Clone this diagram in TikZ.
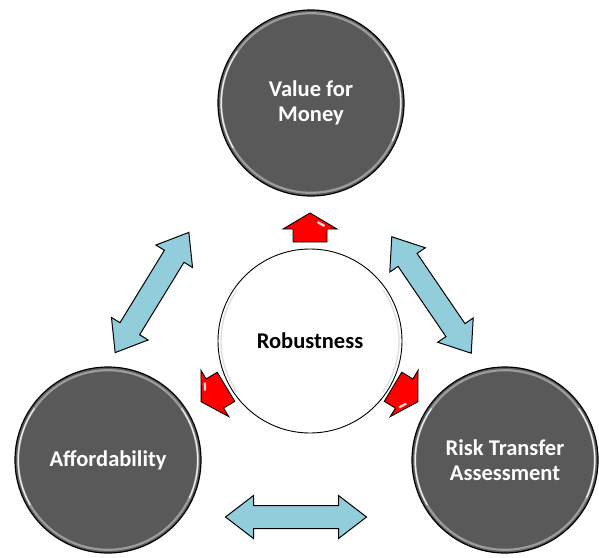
\documentclass[tikz,border=0pt]{standalone}
\usepackage{fontspec}
\setmainfont{Carlito}
\definecolor{cgray}{HTML}{595959}
\definecolor{cblue}{HTML}{92CDDC}
\definecolor{crim}{HTML}{9C9C9C}
\begin{document}
\begin{tikzpicture}[x=1pt,y=-1pt,
  lbl/.style={font=\bfseries\fontsize{22.5}{25}\selectfont, align=center},
  outer/.style={circle, minimum size=186pt, inner sep=0pt, fill=cgray,
    draw=black, line width=1.2pt, text=white, lbl},
  centre/.style={circle, minimum size=184pt, inner sep=0pt, fill=white,
    draw=black, line width=0.9pt, text=black, lbl},
  rimring/.style={draw=crim, line width=2.2pt},
  rimlight/.style={draw=white, line width=1.3pt, opacity=0.8},
  innerrim/.style={draw=black!12, line width=1.4pt},
  dblarrow/.pic={
    \draw[fill=cblue, draw=black, line width=1pt, line join=miter]
      (-70.5,0) -- (-42.5,-21.5) -- (-42.5,-11.5) -- (42.5,-11.5) --
      (42.5,-21.5) -- (70.5,0) -- (42.5,21.5) -- (42.5,11.5) --
      (-42.5,11.5) -- (-42.5,21.5) -- cycle;},
  redarrow/.pic={
    \draw[fill=red, draw=black, line width=0.9pt, line join=miter]
      (0,-15) -- (27,1) -- (17,1) -- (17,14) -- (-17,14) -- (-17,1) --
      (-27,1) -- cycle;
    \fill[white, opacity=0.85] (8,-7) -- (15,-3) -- (14,-1) -- (7,-5) -- cycle;}
]
\useasboundingbox (0,0) rectangle (599,557);

% main circles
\node[outer] (vfm) at (311,103) {Value for\\Money};
\node[outer] (aff) at (108,460) {Affordability};
\node[outer] (rta) at (505,460) {Risk Transfer\\Assessment};
\node[centre] (rob) at (310,341) {Robustness};

% bevel rims
\foreach \n in {vfm,aff,rta}{
  \draw[rimring] (\n.center) circle (89.8);
  \draw[rimlight] (\n.center) ++(150:89.8) arc (150:215:89.8);
  \draw[rimlight] (\n.center) ++(-35:89.8) arc (-35:25:89.8);
}
\draw[innerrim] (rob.center) ++(145:89) arc (145:215:89);
\draw[innerrim] (rob.center) ++(-35:89) arc (-35:35:89);

% double arrows between outer circles
\pic[rotate=58.5]  at (152,292.5) {dblarrow};
\pic[rotate=-55.7] at (431.5,295) {dblarrow};
\pic               at (296,517)   {dblarrow};

% red arrows from the centre
\pic               at (310,228) {redarrow};
\pic[rotate=121]   at (214,394) {redarrow};
\pic[rotate=-121]  at (405,394) {redarrow};
\end{tikzpicture}
\end{document}
